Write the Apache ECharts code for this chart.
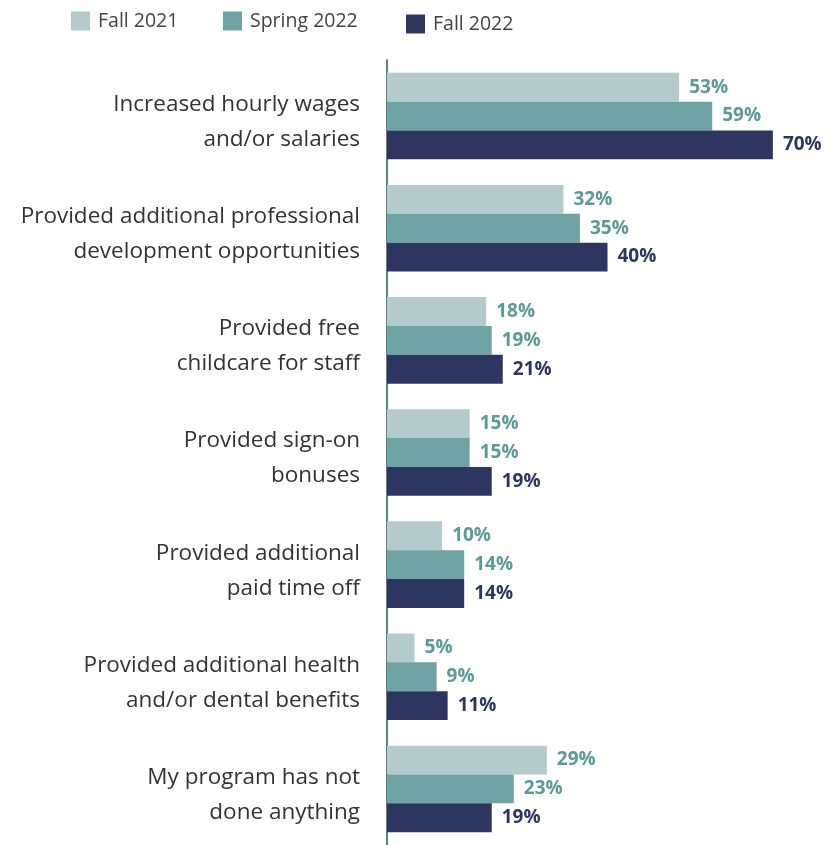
<!DOCTYPE html>
<html><head><meta charset="utf-8">
<script src="https://cdn.jsdelivr.net/npm/echarts@6/dist/echarts.min.js"></script>
<style>html,body{margin:0;padding:0;background:#fff}#c{width:837px;height:845px}</style>
</head><body><div id="c"></div>
<script>
const categories = [
  "Increased hourly wages\nand/or salaries",
  "Provided additional professional\ndevelopment opportunities",
  "Provided free\nchildcare for staff",
  "Provided sign-on\nbonuses",
  "Provided additional\npaid time off",
  "Provided additional health\nand/or dental benefits",
  "My program has not\ndone anything"
];
const seriesNames = ["Fall 2021", "Spring 2022", "Fall 2022"];
const fall2021 = [53, 32, 18, 15, 10, 5, 29];
const spring2022 = [59, 35, 19, 15, 14, 9, 23];
const fall2022 = [70, 40, 21, 19, 14, 11, 19];

const barColors = ["#b3cbcb", "#6fa3a3", "#2e365f"];
const labelColors = ["#5b9a96", "#5b9a96", "#2e365f"];
const values = [fall2021, spring2022, fall2022];

const chart = echarts.init(document.getElementById('c'));
const font = "'Open Sans', 'Noto Sans', sans-serif";
const legendLefts = [66, 218, 401];
const legendTops = [6, 6, 9];
chart.setOption({
  animation: false,
  legend: seriesNames.map((n, i) => ({
    data: [n], left: legendLefts[i], top: legendTops[i],
    itemWidth: 19, itemHeight: 19, itemGap: 0,
    icon: 'rect',
    textStyle: { fontFamily: font, fontSize: 19.5, color: '#444', padding: [0, 0, 0, 3] }
  })),
  grid: { left: 387, top: 60, width: 441, height: 789, containLabel: false },
  xAxis: { type: 'value', min: 0, max: 80, show: false, splitLine: { show: false } },
  yAxis: {
    type: 'category', data: categories, inverse: true,
    axisLine: { show: true, lineStyle: { color: '#1f5c57', width: 1.5 } },
    axisTick: { show: false },
    axisLabel: {
      margin: 27, align: 'right',
      formatter: v => '{s| }\n' + v.split('\n').map(l => '{a|' + l + '}').join('\n'),
      rich: {
        s: { fontSize: 8, lineHeight: 12 },
        a: { fontFamily: font, fontSize: 22.5, color: '#333', lineHeight: 35, align: 'right' }
      }
    }
  },
  series: seriesNames.map((n, i) => ({
    name: n, type: 'bar', data: values[i],
    barGap: '0%', barCategoryGap: '22.8%',
    itemStyle: { color: barColors[i] },
    label: {
      show: true, position: 'right', distance: 10, formatter: '{c}%',
      fontFamily: font, fontSize: 19, fontWeight: 'bold', color: labelColors[i]
    }
  }))
});
</script></body></html>
